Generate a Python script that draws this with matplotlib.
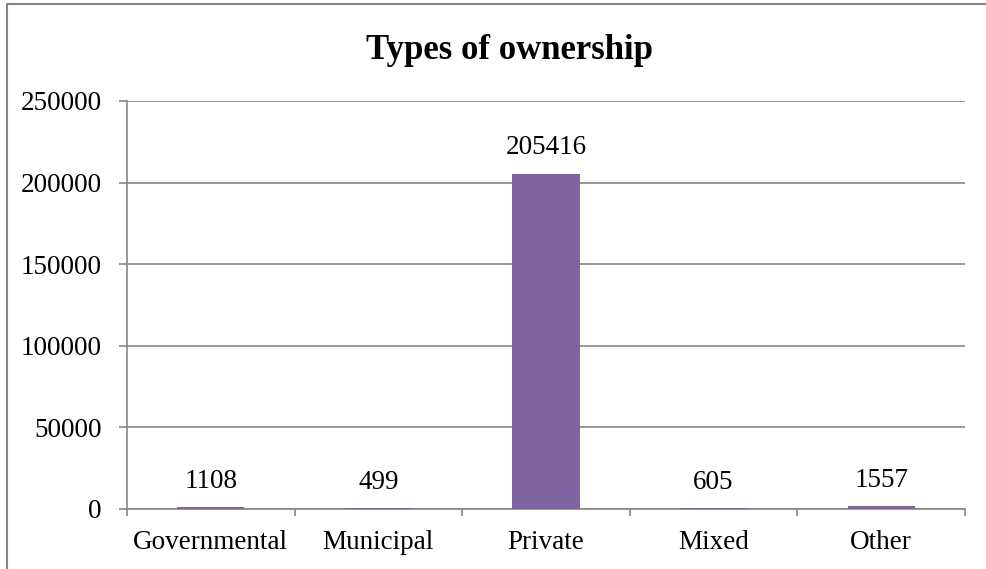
import matplotlib
matplotlib.use("Agg")
import matplotlib.pyplot as plt
from matplotlib.patches import Rectangle

categories = ["Governmental", "Municipal", "Private", "Mixed", "Other"]
counts = [1108, 499, 205416, 605, 1557]
yticks = [0, 50000, 100000, 150000, 200000, 250000]

BAR = "#8064A2"
GRID = "#868686"

plt.rcParams["font.family"] = ["Liberation Serif", "DejaVu Serif"]

W, H = 987, 569
fig = plt.figure(figsize=(W / 100, H / 100), dpi=100)
ax = fig.add_axes([127 / W, 1 - 509 / H, (965 - 127) / W, (509 - 101) / H])

x = list(range(len(categories)))
ax.bar(x, counts, width=0.4, color=BAR, zorder=3)
for xi, v in zip(x, counts):
    ax.annotate(str(v), (xi, v), xytext=(0, 14), textcoords="offset points",
                ha="center", va="baseline", fontsize=19.5, color="black")

ax.set_xlim(-0.5, len(categories) - 0.5)
ax.set_ylim(0, 250000)
ax.set_yticks(yticks)
ax.set_yticklabels([str(t) for t in yticks], fontsize=19.5)
ax.yaxis.grid(True, color=GRID, linewidth=1.2, zorder=0)
ax.set_axisbelow(True)

ax.set_xticks(x)
ax.set_xticklabels(categories, fontsize=19.5)
ax.tick_params(axis="x", length=0, pad=15)
ax.set_xticks([i - 0.5 for i in range(len(categories) + 1)], minor=True)
ax.tick_params(axis="x", which="minor", length=5, width=1.2, color=GRID, direction="out")
ax.tick_params(axis="y", length=6, width=1.2, color=GRID, direction="out", pad=12)

for s in ["top", "right"]:
    ax.spines[s].set_visible(False)
for s in ["left", "bottom"]:
    ax.spines[s].set_color(GRID)
    ax.spines[s].set_linewidth(1.2)

fig.text(510 / W, 1 - 59 / H, "Types of ownership", fontsize=25, fontweight="bold",
         ha="center", va="baseline")

# chart area frame
fig.patches.append(Rectangle((7 / W, -0.1), 1.2, 1 - 4.5 / H + 0.1,
                             transform=fig.transFigure, fill=False,
                             edgecolor=GRID, linewidth=1.5))

fig.savefig("out.png", dpi=100)
